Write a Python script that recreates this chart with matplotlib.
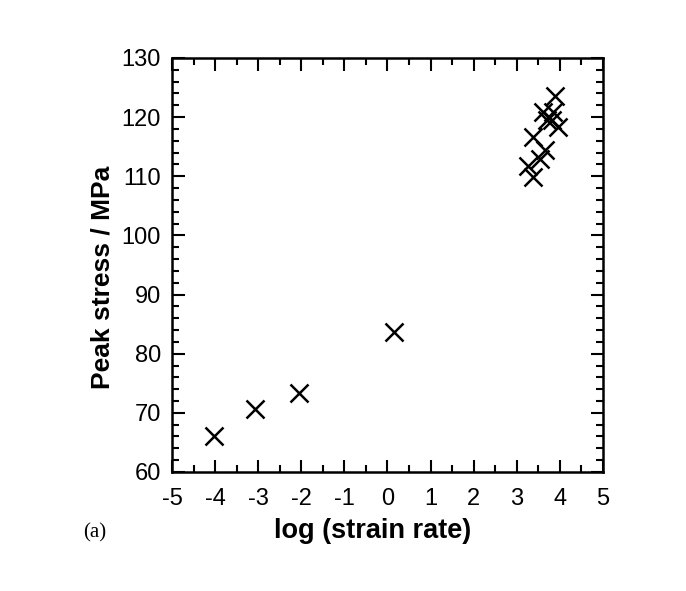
import numpy as np
import matplotlib.pyplot as plt
from matplotlib.ticker import MultipleLocator

plt.rcParams['font.family'] = ['Liberation Sans', 'DejaVu Sans']
plt.rcParams['axes.unicode_minus'] = False

# log(strain rate) vs peak stress
log_rate = [-4.03, -3.07, -2.06, 0.15,
            3.38, 3.27, 3.54, 3.65, 3.38, 3.89, 3.85, 3.69, 3.96, 3.61, 3.81]
peak_stress = [66.1, 70.7, 73.3, 83.6,
               109.8, 111.7, 113.0, 114.4, 116.7, 123.5, 120.9, 119.5, 118.4, 120.9, 119.5]

fig = plt.figure(figsize=(6.86, 5.91), dpi=100)
ax = fig.add_axes([0.2507, 0.2014, 0.6283, 0.7005])

ax.plot(log_rate, peak_stress, linestyle='none', marker='x', markersize=13,
        markeredgewidth=1.8, color='black')

ax.set_xlim(-5, 5)
ax.set_ylim(60, 130)
ax.xaxis.set_major_locator(MultipleLocator(1))
ax.xaxis.set_minor_locator(MultipleLocator(0.5))
ax.yaxis.set_major_locator(MultipleLocator(10))
ax.yaxis.set_minor_locator(MultipleLocator(2))

ax.tick_params(which='both', direction='in', top=True, right=True,
               labelsize=17, width=1.5)
ax.tick_params(axis='x', pad=11.5)
ax.tick_params(axis='y', pad=8)
ax.tick_params(which='major', length=9)
ax.tick_params(which='minor', length=5)
for s in ax.spines.values():
    s.set_linewidth(1.8)

ax.set_xlabel('log (strain rate)', fontsize=19.5, fontweight='bold', va='center')
ax.set_ylabel('Peak stress / MPa', fontsize=19, fontweight='bold', va='center')
ax.xaxis.set_label_coords(0.466, -0.1425)
ax.yaxis.set_label_coords(-0.162, 0.471)

fig.text(0.121, 0.098, '(a)', fontsize=15, family='Liberation Serif', va='center')

fig.savefig('out.png', dpi=100)
